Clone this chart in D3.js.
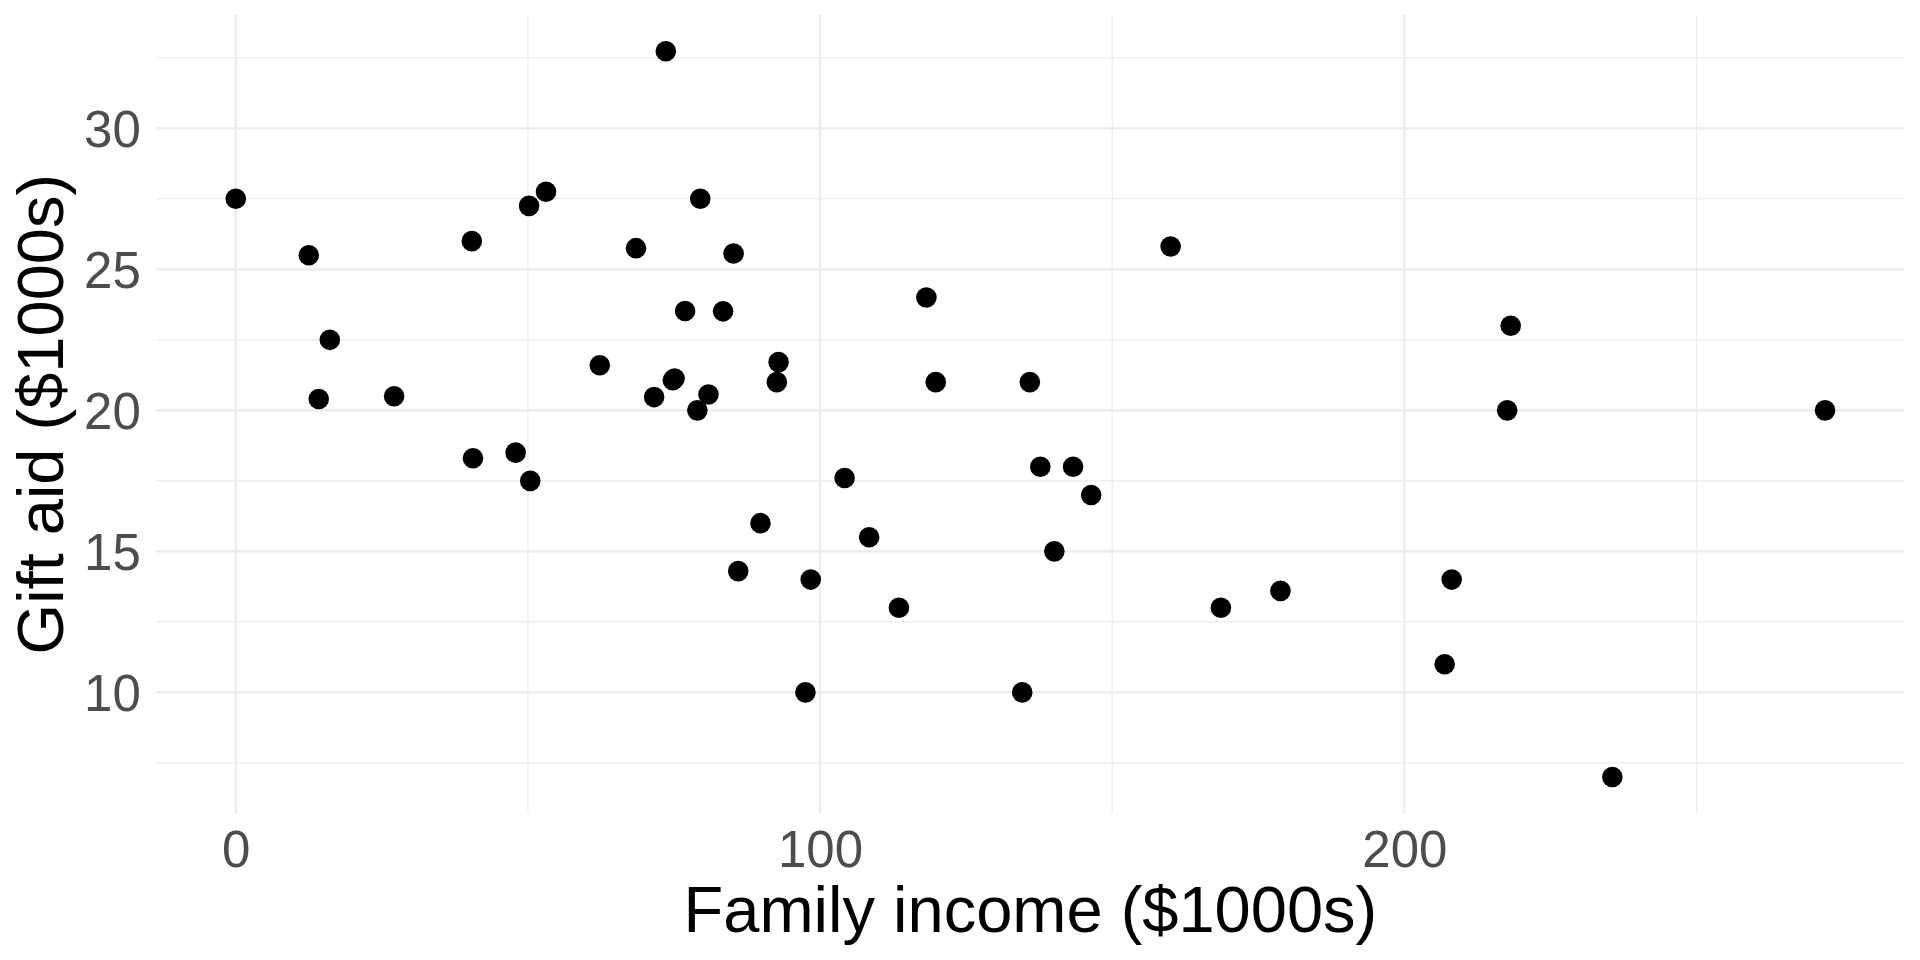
<!DOCTYPE html>
<html>
<head>
<meta charset="utf-8">
<script src="https://cdn.jsdelivr.net/npm/d3@7"></script>
<style>
  html, body { margin: 0; padding: 0; background: #fff; }
  svg { display: block; }
</style>
</head>
<body>
<svg id="chart" width="1920" height="960"></svg>
<script>
// Data (family income vs gift aid, $1000s)
const familyIncome = [0, 12.5, 14.2, 16.1, 27.1, 40.4, 40.6, 47.9, 50.2, 50.4,
  53.1, 62.3, 68.5, 71.6, 73.6, 74.8, 75.1, 76.9, 79.0, 79.5,
  80.9, 83.4, 85.2, 86.0, 89.8, 92.6, 92.9, 97.5, 98.4, 104.2,
  108.4, 113.5, 118.2, 119.8, 134.6, 135.9, 137.7, 140.1, 143.3, 146.4,
  160.0, 168.6, 178.8, 206.9, 208.1, 217.6, 218.2, 235.6, 272.0];
const giftAid = [27.5, 25.5, 20.4, 22.5, 20.5, 26.0, 18.3, 18.5, 27.25, 17.5,
  27.75, 21.6, 25.75, 20.47, 32.73, 21.07, 21.13, 23.52, 20.0, 27.5,
  20.56, 23.51, 25.56, 14.3, 16.0, 21.0, 21.71, 10.0, 14.0, 17.6,
  15.5, 13.0, 24.0, 21.0, 10.0, 21.0, 18.0, 15.0, 18.0, 17.0,
  25.81, 13.0, 13.6, 11.0, 14.0, 20.0, 23.0, 7.0, 20.0];
const xTicks = [0, 100, 200];
const xMinorTicks = [50, 150, 250];
const yTicks = [10, 15, 20, 25, 30];
const yMinorTicks = [7.5, 12.5, 17.5, 22.5, 27.5, 32.5];
const xTitle = "Family income ($1000s)";
const yTitle = "Gift aid ($1000s)";

const points = familyIncome.map((v, i) => ({x: v, y: giftAid[i]}));

const panel = {left: 156.3, right: 1904.5, top: 15, bottom: 813.3};

function expand(ext, f) {
  const d = ext[1] - ext[0];
  return [ext[0] - d * f, ext[1] + d * f];
}
const xDom = expand(d3.extent(familyIncome), 0.05);
const yDom = expand(d3.extent(giftAid), 0.05);

const x = d3.scaleLinear().domain(xDom).range([panel.left, panel.right]);
const y = d3.scaleLinear().domain(yDom).range([panel.bottom, panel.top]);

const svg = d3.select("#chart");
const font = "'Liberation Sans', Arial, Helvetica, sans-serif";

const grid = svg.append("g");
// minor grid
grid.selectAll("line.ymin").data(yMinorTicks).enter().append("line")
  .attr("x1", panel.left).attr("x2", panel.right)
  .attr("y1", d => y(d)).attr("y2", d => y(d))
  .attr("stroke", "#ebebeb").attr("stroke-width", 1.1);
grid.selectAll("line.xmin").data(xMinorTicks).enter().append("line")
  .attr("y1", panel.top).attr("y2", panel.bottom)
  .attr("x1", d => x(d)).attr("x2", d => x(d))
  .attr("stroke", "#ebebeb").attr("stroke-width", 1.1);
// major grid
grid.selectAll("line.ymaj").data(yTicks).enter().append("line")
  .attr("x1", panel.left).attr("x2", panel.right)
  .attr("y1", d => y(d)).attr("y2", d => y(d))
  .attr("stroke", "#ebebeb").attr("stroke-width", 2.2);
grid.selectAll("line.xmaj").data(xTicks).enter().append("line")
  .attr("y1", panel.top).attr("y2", panel.bottom)
  .attr("x1", d => x(d)).attr("x2", d => x(d))
  .attr("stroke", "#ebebeb").attr("stroke-width", 2.2);

// axes (labels only, ggplot theme_minimal style)
const xAxis = d3.axisBottom(x).tickValues(xTicks).tickSize(0).tickPadding(0);
const gx = svg.append("g").attr("transform", `translate(0,${panel.bottom})`).call(xAxis);
gx.select(".domain").remove();
gx.selectAll("text")
  .attr("dy", null).attr("y", 53.5)
  .attr("font-family", font).attr("font-size", 51).attr("fill", "#4d4d4d");

const yAxis = d3.axisLeft(y).tickValues(yTicks).tickSize(0).tickPadding(0);
const gy = svg.append("g").attr("transform", `translate(${panel.left},0)`).call(yAxis);
gy.select(".domain").remove();
gy.selectAll("text")
  .attr("x", -15.5).attr("dy", "0.36em")
  .attr("font-family", font).attr("font-size", 51).attr("fill", "#4d4d4d");

// points
svg.append("g").selectAll("circle").data(points).enter().append("circle")
  .attr("cx", d => x(d.x)).attr("cy", d => y(d.y))
  .attr("r", 10.3).attr("fill", "#000");

// titles
svg.append("text")
  .attr("x", (panel.left + panel.right) / 2).attr("y", 931.5)
  .attr("text-anchor", "middle")
  .attr("font-family", font).attr("font-size", 65).attr("fill", "#000")
  .text(xTitle);

svg.append("text")
  .attr("transform", `translate(63,${(panel.top + panel.bottom) / 2}) rotate(-90)`)
  .attr("text-anchor", "middle")
  .attr("font-family", font).attr("font-size", 65).attr("fill", "#000")
  .text(yTitle);
</script>
</body>
</html>
